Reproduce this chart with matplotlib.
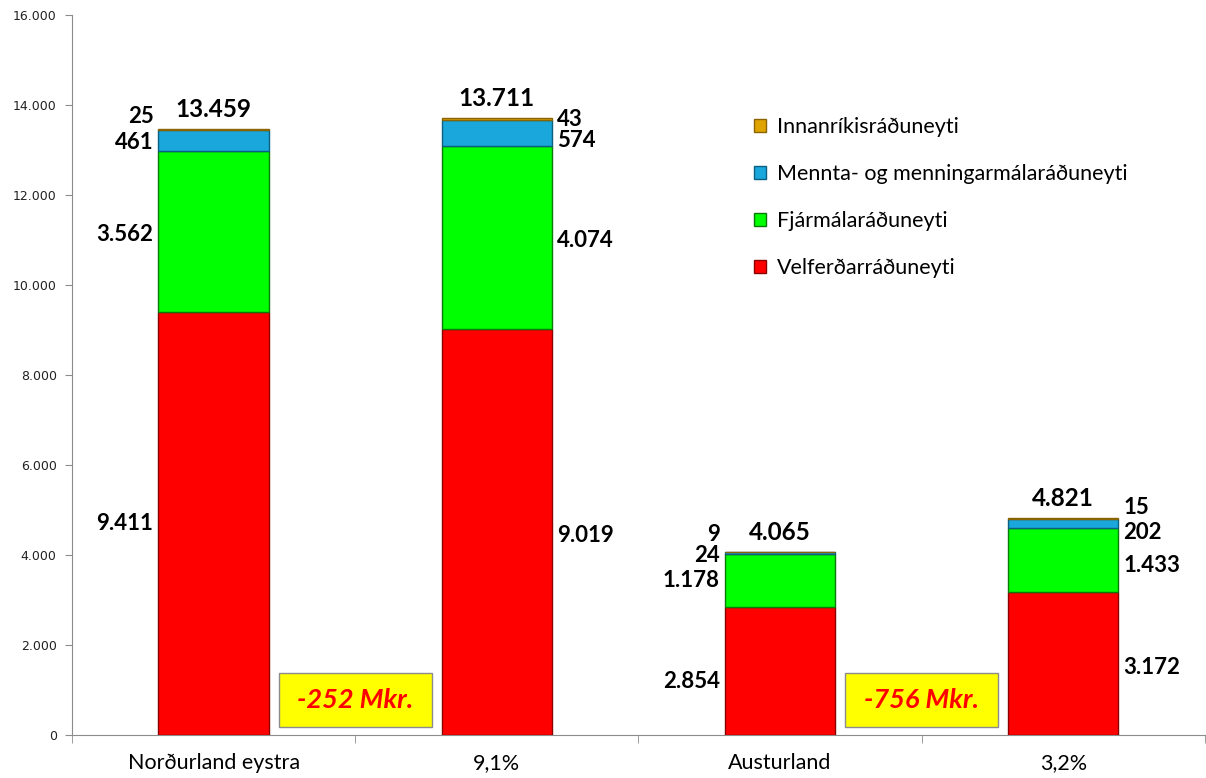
import matplotlib.pyplot as plt
from matplotlib.patches import Rectangle
from matplotlib.ticker import FuncFormatter
import numpy as np

# data
categories = ['Norðurland eystra', '9,1%', 'Austurland', '3,2%']
series_names = ['Velferðarráðuneyti', 'Fjármálaráðuneyti',
                'Mennta- og menningarmálaráðuneyti', 'Innanríkisráðuneyti']
velferd = [9411, 9019, 2854, 3172]
fjarmala = [3562, 4074, 1178, 1433]
mennta = [461, 574, 24, 202]
innanriki = [25, 43, 9, 15]
totals = ['13.459', '13.711', '4.065', '4.821']
diff_labels = ['-252 Mkr.', '-756 Mkr.']

colors = ['#ff0000', '#00ff00', '#1aa7dc', '#e0a400']
edges = ['#8a0000', '#0a7a0a', '#0b5f80', '#8a6400']

# label side per bar (-1 left, 1 right) and small vertical nudges (pixels)
side = [-1, 1, -1, 1]
nudges = [[0, -3, -2, 13], [-3, -3, -8, 0], [-11, 0, -2, 18], [-4, -5, -9, 11]]

fig = plt.figure(figsize=(12.06, 7.78), dpi=100)
ax = fig.add_axes([72 / 1206, 43 / 778, 1 - 72 / 1206 - 0.001, 720 / 778])

x = np.arange(len(categories))
w = 0.39
series = [velferd, fjarmala, mennta, innanriki]
bottom = np.zeros(len(categories))
handles = []
for vals, name, c, ec in zip(series, series_names, colors, edges):
    b = ax.bar(x, vals, w, bottom=bottom, color=c, edgecolor=ec, linewidth=1.0, label=name, zorder=3)
    handles.append(b)
    bottom = bottom + np.array(vals)

def fmt(v):
    return f'{v:,}'.replace(',', '.')

for i in range(len(categories)):
    base = 0
    for k, vals in enumerate(series):
        v = vals[i]
        mid = base + v / 2
        base += v
        xe = x[i] + side[i] * w / 2
        ax.annotate(fmt(v), (xe, mid), xytext=(side[i] * 5, nudges[i][k]), textcoords='offset pixels',
                    ha='left' if side[i] > 0 else 'right', va='center',
                    fontsize=16, fontweight='bold', family='Lato', color='black')
    ax.annotate(totals[i], (x[i], base), xytext=(0, 20), textcoords='offset pixels',
                ha='center', va='center', fontsize=17.5, fontweight='bold', family='Lato')

for j, lab in enumerate(diff_labels):
    cx = 0.5 + 2 * j
    ax.add_patch(Rectangle((cx - 0.27, 180), 0.54, 1200, facecolor='#ffff00', edgecolor='#8c8c8c',
                           linewidth=1.0, zorder=2))
    ax.text(cx, 780, lab, ha='center', va='center', color='#ff0000', fontsize=19.5,
            fontweight='bold', style='italic', family='Lato', zorder=4)

ax.set_xlim(-0.5, 3.5)
ax.set_ylim(0, 16000)
ax.set_yticks(np.arange(0, 16001, 2000))
ax.yaxis.set_major_formatter(FuncFormatter(lambda v, p: fmt(int(v))))
ax.set_xticks(x)
ax.set_xticklabels(categories, fontsize=15.5, family='Lato')
ax.set_xticks(np.arange(-0.5, 3.6, 1), minor=True)
ax.tick_params(axis='x', which='major', length=0, pad=13)
ax.tick_params(axis='x', which='minor', length=6, color='#8c8c8c', direction='out')
ax.tick_params(axis='y', length=5, color='#8c8c8c', labelsize=9, labelcolor='#222222', pad=6)
for s in ['top', 'right']:
    ax.spines[s].set_visible(False)
for s in ['left', 'bottom']:
    ax.spines[s].set_color('#8c8c8c')

leg = ax.legend(handles[::-1], series_names[::-1], loc='upper left', bbox_to_anchor=(0.585, 0.885),
                frameon=False, prop={'family': 'Lato', 'size': 15.5}, handlelength=0.55, handleheight=0.55,
                handletextpad=0.5, labelspacing=1.25)

fig.savefig('out.png', dpi=100)
